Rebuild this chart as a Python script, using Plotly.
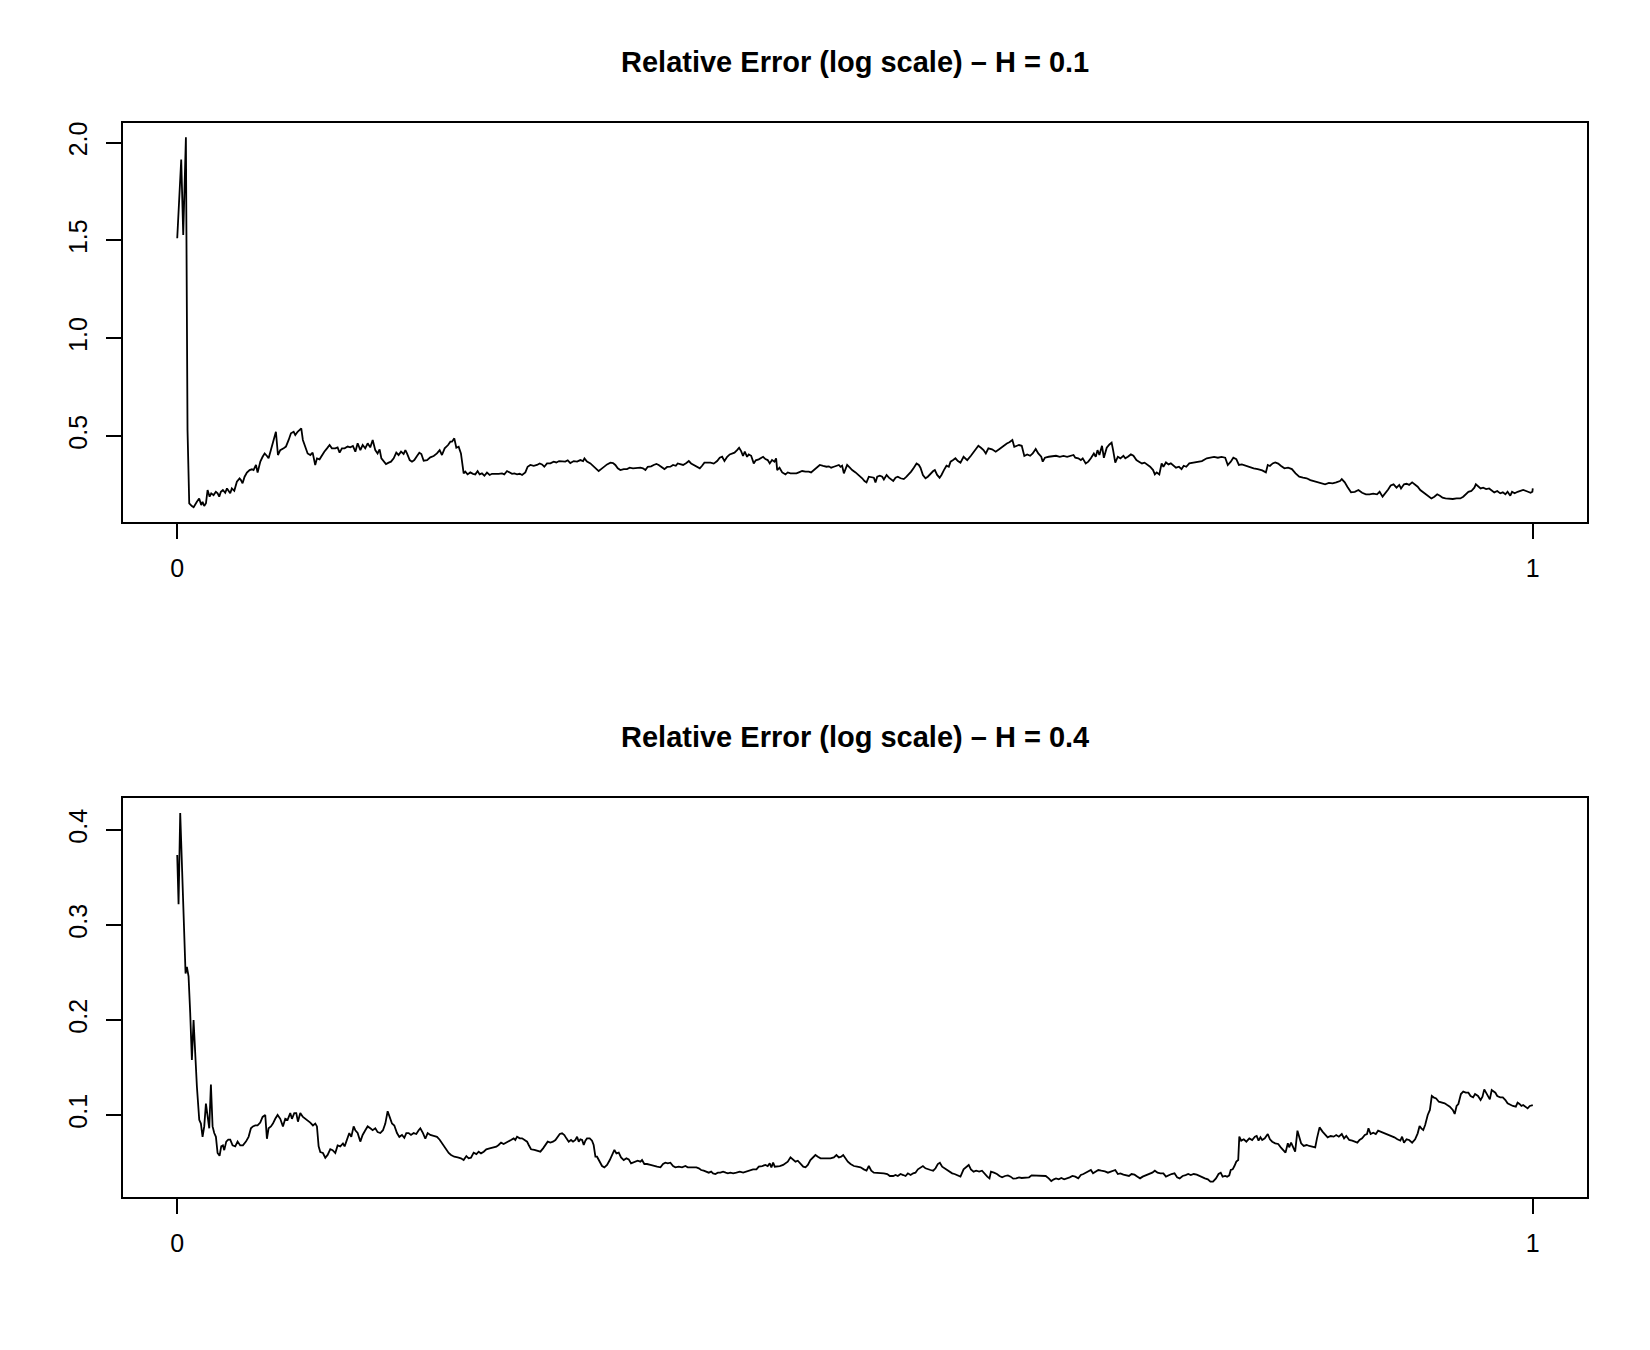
import plotly.graph_objects as go

# ---------------- data ----------------
title_top = "Relative Error (log scale) \u2013 H = 0.1"
title_bottom = "Relative Error (log scale) \u2013 H = 0.4"

x_tick_vals = [0, 1]
x_tick_text = ["0", "1"]
top_y_tick_vals = [0.5, 1.0, 1.5, 2.0]
top_y_tick_text = ["0.5", "1.0", "1.5", "2.0"]
bottom_y_tick_vals = [0.1, 0.2, 0.3, 0.4]
bottom_y_tick_text = ["0.1", "0.2", "0.3", "0.4"]

# H = 0.1 series, (t, relative error) pairs
h01_part1 = [(0, 1.511), (0.00295, 1.914), (0.00443, 1.528), (0.0064, 2.027), (0.0076, 0.531), (0.00886, 0.156),
    (0.0108, 0.142), (0.0121, 0.136), (0.0145, 0.164), (0.0162, 0.181), (0.0177, 0.147), (0.0187, 0.164),
    (0.0199, 0.142), (0.0212, 0.156), (0.0224, 0.224), (0.0239, 0.190), (0.0251, 0.207), (0.0268, 0.198),
    (0.0285, 0.215), (0.0298, 0.207), (0.0310, 0.190), (0.0322, 0.215), (0.0337, 0.224), (0.0354, 0.210),
    (0.0367, 0.232), (0.0379, 0.220), (0.0391, 0.207), (0.0403, 0.232), (0.0421, 0.220), (0.0440, 0.266),
    (0.0460, 0.283), (0.0470, 0.275), (0.0482, 0.258), (0.0497, 0.292), (0.0514, 0.313), (0.0534, 0.326),
    (0.0551, 0.330), (0.0563, 0.326), (0.0581, 0.352), (0.0593, 0.313), (0.0613, 0.369), (0.0630, 0.394),
    (0.0645, 0.411), (0.0662, 0.398), (0.0674, 0.386), (0.0691, 0.428), (0.0711, 0.480), (0.0728, 0.522),
    (0.0743, 0.403), (0.0760, 0.428), (0.0785, 0.437), (0.0802, 0.446), (0.0822, 0.480), (0.0839, 0.514),
    (0.0859, 0.522), (0.0871, 0.505), (0.0888, 0.522), (0.0900, 0.531), (0.0915, 0.539), (0.0927, 0.480),
    (0.0945, 0.446), (0.0962, 0.411), (0.0982, 0.403), (0.0999, 0.415), (0.1018, 0.352), (0.1031, 0.386),
    (0.1050, 0.381), (0.1068, 0.403), (0.1085, 0.420), (0.1105, 0.437), (0.1124, 0.454), (0.1141, 0.437),
    (0.1166, 0.437), (0.1183, 0.442), (0.1198, 0.415), (0.1215, 0.437), (0.1235, 0.437), (0.1257, 0.446),
    (0.1277, 0.442), (0.1296, 0.449), (0.1314, 0.420), (0.1331, 0.463), (0.1351, 0.428), (0.1368, 0.454),
    (0.1387, 0.437), (0.1405, 0.463), (0.1424, 0.442), (0.1442, 0.480), (0.1461, 0.428), (0.1478, 0.411),
    (0.1493, 0.432), (0.1506, 0.386), (0.1523, 0.369), (0.1540, 0.357), (0.1560, 0.364), (0.1577, 0.369),
    (0.1597, 0.386), (0.1616, 0.415), (0.1633, 0.403), (0.1651, 0.420), (0.1670, 0.408), (0.1683, 0.428),
    (0.1695, 0.411), (0.1715, 0.377), (0.1732, 0.369), (0.1749, 0.377), (0.1769, 0.398), (0.1786, 0.415),
    (0.1801, 0.408), (0.1818, 0.374), (0.1843, 0.377), (0.1867, 0.391), (0.1892, 0.398), (0.1916, 0.411),
    (0.1936, 0.428), (0.1953, 0.403), (0.1973, 0.437), (0.1998, 0.454), (0.2015, 0.471)]

h01_part2 = [(0.2027, 0.471), (0.2044, 0.488), (0.2059, 0.440), (0.2076, 0.445), (0.2093, 0.411), (0.2113, 0.309),
    (0.2125, 0.318), (0.2142, 0.304), (0.2162, 0.314), (0.2182, 0.307), (0.2199, 0.304), (0.2216, 0.321),
    (0.2231, 0.304), (0.2248, 0.309), (0.2266, 0.297), (0.2285, 0.313), (0.2305, 0.301), (0.2322, 0.307),
    (0.2347, 0.306), (0.2371, 0.307), (0.2396, 0.309), (0.2413, 0.304), (0.2433, 0.321), (0.2453, 0.314),
    (0.2470, 0.307), (0.2487, 0.309), (0.2507, 0.304), (0.2527, 0.307), (0.2544, 0.301), (0.2568, 0.314),
    (0.2585, 0.343), (0.2605, 0.352), (0.2630, 0.348), (0.2654, 0.352), (0.2674, 0.360), (0.2691, 0.355),
    (0.2708, 0.343), (0.2728, 0.360), (0.2753, 0.360), (0.2777, 0.369), (0.2797, 0.365), (0.2817, 0.372),
    (0.2839, 0.372), (0.2863, 0.369), (0.2881, 0.376), (0.2900, 0.362), (0.2925, 0.372), (0.2950, 0.369),
    (0.2974, 0.377), (0.2994, 0.372), (0.3004, 0.386), (0.3023, 0.369), (0.3048, 0.360), (0.3072, 0.343),
    (0.3092, 0.331), (0.3109, 0.321), (0.3127, 0.331), (0.3146, 0.343), (0.3171, 0.355), (0.3196, 0.364),
    (0.3215, 0.362), (0.3232, 0.352), (0.3250, 0.335), (0.3269, 0.326), (0.3294, 0.331), (0.3318, 0.331),
    (0.3338, 0.338), (0.3362, 0.335), (0.3392, 0.338), (0.3417, 0.338), (0.3436, 0.335), (0.3454, 0.326),
    (0.3471, 0.343), (0.3496, 0.345), (0.3515, 0.352), (0.3535, 0.357), (0.3552, 0.352), (0.3577, 0.338),
    (0.3594, 0.331), (0.3614, 0.342), (0.3638, 0.343), (0.3658, 0.352), (0.3678, 0.348), (0.3692, 0.360),
    (0.3712, 0.355), (0.3732, 0.352), (0.3756, 0.362), (0.3774, 0.372), (0.3791, 0.360), (0.3811, 0.352),
    (0.3835, 0.343), (0.3855, 0.335), (0.3872, 0.348), (0.3889, 0.364), (0.3909, 0.364), (0.3934, 0.364),
    (0.3958, 0.359), (0.3983, 0.372), (0.4002, 0.389), (0.4020, 0.394), (0.4037, 0.372), (0.4057, 0.394),
    (0.4076, 0.406), (0.4093, 0.411), (0.4111, 0.415), (0.4130, 0.428), (0.4145, 0.440), (0.4160, 0.423),
    (0.4174, 0.398), (0.4187, 0.420), (0.4204, 0.394), (0.4216, 0.406), (0.4234, 0.399), (0.4253, 0.360),
    (0.4268, 0.376), (0.4290, 0.381), (0.4307, 0.389), (0.4322, 0.394), (0.4339, 0.382), (0.4356, 0.377),
    (0.4371, 0.360), (0.4388, 0.377), (0.4406, 0.369), (0.4418, 0.386), (0.4426, 0.326), (0.4443, 0.338),
    (0.4463, 0.314), (0.4487, 0.304), (0.4504, 0.314), (0.4524, 0.309), (0.4544, 0.309), (0.4568, 0.309),
    (0.4586, 0.314), (0.4610, 0.321), (0.4635, 0.318), (0.4659, 0.318), (0.4676, 0.314), (0.4696, 0.326),
    (0.4721, 0.338), (0.4740, 0.352), (0.4765, 0.347), (0.4790, 0.343), (0.4807, 0.345), (0.4824, 0.338),
    (0.4844, 0.343), (0.4863, 0.348), (0.4881, 0.352), (0.4893, 0.343), (0.4905, 0.348), (0.4918, 0.309),
    (0.4930, 0.330), (0.4942, 0.352), (0.4962, 0.338), (0.4979, 0.326), (0.5004, 0.314), (0.5021, 0.304),
    (0.5036, 0.292), (0.5053, 0.284), (0.5070, 0.270), (0.5085, 0.263), (0.5102, 0.292), (0.5120, 0.289),
    (0.5139, 0.287), (0.5151, 0.263), (0.5164, 0.292), (0.5183, 0.297), (0.5201, 0.292), (0.5213, 0.278),
    (0.5233, 0.301), (0.5250, 0.287), (0.5267, 0.280), (0.5282, 0.270), (0.5299, 0.287), (0.5316, 0.292),
    (0.5336, 0.284), (0.5360, 0.280), (0.5380, 0.292), (0.5397, 0.304), (0.5414, 0.318), (0.5434, 0.338),
    (0.5454, 0.360), (0.5471, 0.352), (0.5483, 0.338), (0.5501, 0.301), (0.5520, 0.284), (0.5537, 0.292),
    (0.5557, 0.309), (0.5577, 0.321), (0.5589, 0.326), (0.5606, 0.301), (0.5624, 0.287), (0.5638, 0.301),
    (0.5656, 0.326), (0.5675, 0.348), (0.5692, 0.343), (0.5705, 0.369), (0.5724, 0.377), (0.5741, 0.386),
    (0.5759, 0.372), (0.5778, 0.364)]

h01_part3 = [(0.5801, 0.394), (0.5828, 0.377), (0.5855, 0.399), (0.5883, 0.428), (0.5910, 0.450), (0.5929, 0.440),
    (0.5948, 0.428), (0.5965, 0.411), (0.5984, 0.437), (0.6011, 0.432), (0.6038, 0.420), (0.6066, 0.434),
    (0.6093, 0.450), (0.6120, 0.462), (0.6139, 0.468), (0.6161, 0.480), (0.6175, 0.445), (0.6189, 0.450),
    (0.6210, 0.454), (0.6230, 0.450), (0.6249, 0.398), (0.6270, 0.406), (0.6292, 0.399), (0.6311, 0.411),
    (0.6333, 0.434), (0.6352, 0.411), (0.6374, 0.394), (0.6385, 0.369), (0.6401, 0.389), (0.6429, 0.394),
    (0.6456, 0.398), (0.6483, 0.399), (0.6511, 0.394), (0.6538, 0.398), (0.6565, 0.394), (0.6593, 0.399),
    (0.6612, 0.403), (0.6625, 0.389), (0.6647, 0.386), (0.6666, 0.377), (0.6680, 0.386), (0.6702, 0.360),
    (0.6721, 0.369), (0.6740, 0.386), (0.6762, 0.411), (0.6776, 0.394), (0.6789, 0.428), (0.6803, 0.403),
    (0.6822, 0.450), (0.6836, 0.389), (0.6857, 0.440), (0.6877, 0.457), (0.6893, 0.466), (0.6904, 0.428),
    (0.6920, 0.364), (0.6939, 0.394), (0.6958, 0.386), (0.6980, 0.399), (0.6994, 0.386), (0.7013, 0.394),
    (0.7035, 0.406), (0.7054, 0.399), (0.7076, 0.377), (0.7095, 0.369), (0.7117, 0.360), (0.7136, 0.364),
    (0.7158, 0.352), (0.7177, 0.343), (0.7199, 0.326), (0.7212, 0.304), (0.7226, 0.314), (0.7245, 0.304),
    (0.7262, 0.360), (0.7275, 0.343), (0.7294, 0.365), (0.7313, 0.355), (0.7330, 0.360), (0.7349, 0.348),
    (0.7368, 0.338), (0.7390, 0.343), (0.7409, 0.331), (0.7425, 0.348), (0.7444, 0.343), (0.7466, 0.360),
    (0.7494, 0.364), (0.7526, 0.369), (0.7559, 0.372), (0.7595, 0.386), (0.7622, 0.389), (0.7649, 0.393),
    (0.7677, 0.389), (0.7704, 0.393), (0.7731, 0.389), (0.7750, 0.352), (0.7772, 0.369), (0.7791, 0.389),
    (0.7813, 0.382), (0.7832, 0.352), (0.7854, 0.355), (0.7881, 0.348), (0.7909, 0.342), (0.7941, 0.335),
    (0.7971, 0.331), (0.8004, 0.324), (0.8031, 0.314), (0.8045, 0.352), (0.8061, 0.347), (0.8081, 0.360),
    (0.8100, 0.365), (0.8122, 0.359), (0.8141, 0.348), (0.8168, 0.335), (0.8195, 0.338), (0.8223, 0.331),
    (0.8250, 0.309), (0.8277, 0.292), (0.8305, 0.287), (0.8332, 0.284), (0.8359, 0.275), (0.8386, 0.270),
    (0.8414, 0.263), (0.8441, 0.258), (0.8468, 0.253), (0.8496, 0.260), (0.8523, 0.258), (0.8550, 0.263),
    (0.8578, 0.270), (0.8591, 0.280), (0.8613, 0.263), (0.8632, 0.241), (0.8659, 0.212), (0.8687, 0.215),
    (0.8714, 0.224), (0.8741, 0.210), (0.8769, 0.202), (0.8796, 0.202), (0.8823, 0.205), (0.8851, 0.202),
    (0.8870, 0.215), (0.8892, 0.190), (0.8913, 0.207), (0.8933, 0.227), (0.8952, 0.247), (0.8973, 0.253),
    (0.8995, 0.236), (0.9015, 0.250), (0.9028, 0.232), (0.9050, 0.253), (0.9069, 0.256), (0.9088, 0.250),
    (0.9110, 0.263), (0.9132, 0.253), (0.9151, 0.241), (0.9170, 0.224), (0.9192, 0.212), (0.9214, 0.202),
    (0.9233, 0.190), (0.9252, 0.181), (0.9274, 0.190), (0.9295, 0.202), (0.9315, 0.195), (0.9334, 0.185),
    (0.9356, 0.181), (0.9383, 0.178), (0.9410, 0.178), (0.9438, 0.181), (0.9465, 0.181), (0.9487, 0.190),
    (0.9506, 0.202), (0.9525, 0.215), (0.9547, 0.219), (0.9569, 0.236), (0.9580, 0.253), (0.9596, 0.241),
    (0.9615, 0.232), (0.9634, 0.236), (0.9656, 0.229), (0.9678, 0.232), (0.9697, 0.224), (0.9716, 0.212),
    (0.9738, 0.219), (0.9760, 0.207), (0.9779, 0.212), (0.9798, 0.202), (0.9814, 0.215), (0.9834, 0.195),
    (0.9847, 0.215), (0.9866, 0.207), (0.9888, 0.215), (0.9907, 0.219), (0.9929, 0.224), (0.9951, 0.219),
    (0.9970, 0.215), (0.9984, 0.210), (0.9997, 0.215), (1.0, 0.232)]

# H = 0.4 series, (t, relative error) pairs
h04_part1 = [(0, 0.3737), (0.00098, 0.322), (0.00221, 0.418), (0.00418, 0.330), (0.00615, 0.249), (0.00713, 0.256),
    (0.00836, 0.246), (0.00959, 0.207), (0.01082, 0.158), (0.01205, 0.200), (0.01328, 0.161), (0.01451, 0.130),
    (0.01624, 0.095), (0.01747, 0.091), (0.0187, 0.077), (0.01993, 0.088), (0.02116, 0.112), (0.02239, 0.098),
    (0.02362, 0.086), (0.02485, 0.132), (0.02608, 0.088), (0.02731, 0.081), (0.02854, 0.077), (0.02977, 0.060),
    (0.03124, 0.057), (0.03247, 0.067), (0.0337, 0.068), (0.03469, 0.063), (0.03616, 0.072), (0.03764, 0.074),
    (0.03911, 0.074), (0.04084, 0.068), (0.0428, 0.067), (0.04453, 0.072), (0.04649, 0.068), (0.04846, 0.068),
    (0.05068, 0.072), (0.05264, 0.077), (0.05437, 0.086), (0.05584, 0.088), (0.05756, 0.089), (0.05929, 0.089),
    (0.06125, 0.092), (0.06298, 0.098), (0.06494, 0.100), (0.06617, 0.075), (0.0674, 0.086), (0.06913, 0.088),
    (0.0706, 0.091), (0.07232, 0.096), (0.07405, 0.100), (0.07601, 0.096), (0.07798, 0.088), (0.0797, 0.096),
    (0.08143, 0.095), (0.08339, 0.102), (0.08462, 0.096), (0.08635, 0.102), (0.08782, 0.102), (0.08905, 0.093),
    (0.09077, 0.102), (0.09274, 0.098), (0.09446, 0.096), (0.09619, 0.095), (0.09815, 0.092), (0.10012, 0.089),
    (0.10185, 0.091), (0.10308, 0.088), (0.10431, 0.067), (0.10554, 0.061), (0.1075, 0.060), (0.10923, 0.055),
    (0.11095, 0.058), (0.11292, 0.064), (0.11464, 0.063), (0.11661, 0.060), (0.11833, 0.068), (0.1203, 0.067),
    (0.12226, 0.070), (0.12349, 0.067), (0.12522, 0.074), (0.12694, 0.081), (0.12841, 0.077), (0.13014, 0.088),
    (0.13137, 0.084), (0.13309, 0.081), (0.13506, 0.072), (0.13678, 0.079), (0.13875, 0.084), (0.14047, 0.088),
    (0.14244, 0.086), (0.14416, 0.084), (0.14613, 0.086), (0.14785, 0.082), (0.14982, 0.081), (0.15178, 0.084),
    (0.15351, 0.091), (0.15523, 0.104), (0.1567, 0.098), (0.15843, 0.091), (0.16015, 0.089), (0.16212, 0.081),
    (0.16384, 0.077), (0.16581, 0.079), (0.16753, 0.076), (0.169, 0.081), (0.17073, 0.081), (0.17245, 0.079),
    (0.17442, 0.081), (0.17638, 0.080), (0.17811, 0.084), (0.17934, 0.086), (0.1813, 0.081), (0.18303, 0.075),
    (0.18475, 0.081), (0.18672, 0.079), (0.18918, 0.078), (0.19164, 0.077), (0.1936, 0.074), (0.19533, 0.070),
    (0.19779, 0.065), (0.20025, 0.060)]

h04_part2 = [(0.2020, 0.0579), (0.2044, 0.0561), (0.2069, 0.0554), (0.2093, 0.0544), (0.2113, 0.0526), (0.2133, 0.0568),
    (0.2150, 0.0544), (0.2167, 0.0551), (0.2187, 0.0604), (0.2207, 0.0589), (0.2224, 0.0614), (0.2241, 0.0596),
    (0.2261, 0.0614), (0.2280, 0.0639), (0.2305, 0.0649), (0.2330, 0.0656), (0.2354, 0.0667), (0.2371, 0.0684),
    (0.2389, 0.0709), (0.2408, 0.0695), (0.2428, 0.0709), (0.2445, 0.0719), (0.2462, 0.0737), (0.2482, 0.0754),
    (0.2494, 0.0737), (0.2507, 0.0772), (0.2527, 0.0754), (0.2544, 0.0754), (0.2561, 0.0737), (0.2581, 0.0719),
    (0.2593, 0.0684), (0.2610, 0.0639), (0.2635, 0.0632), (0.2659, 0.0625), (0.2679, 0.0614), (0.2699, 0.0649),
    (0.2716, 0.0684), (0.2733, 0.0719), (0.2753, 0.0709), (0.2772, 0.0719), (0.2790, 0.0737), (0.2807, 0.0772),
    (0.2822, 0.0800), (0.2839, 0.0807), (0.2856, 0.0789), (0.2871, 0.0754), (0.2888, 0.0719), (0.2905, 0.0737),
    (0.2920, 0.0719), (0.2937, 0.0737), (0.2950, 0.0772), (0.2962, 0.0719), (0.2974, 0.0744), (0.2987, 0.0737),
    (0.2999, 0.0684), (0.3011, 0.0730), (0.3023, 0.0754), (0.3043, 0.0754), (0.3060, 0.0730), (0.3072, 0.0684),
    (0.3085, 0.0561), (0.3097, 0.0561), (0.3117, 0.0498), (0.3134, 0.0463), (0.3151, 0.0449), (0.3171, 0.0474),
    (0.3191, 0.0526), (0.3208, 0.0589), (0.3225, 0.0632), (0.3240, 0.0596), (0.3257, 0.0604), (0.3274, 0.0554),
    (0.3294, 0.0526), (0.3314, 0.0544), (0.3331, 0.0533), (0.3348, 0.0491), (0.3363, 0.0498), (0.3380, 0.0509),
    (0.3397, 0.0519), (0.3417, 0.0509), (0.3429, 0.0526), (0.3446, 0.0484), (0.3466, 0.0484), (0.3491, 0.0474),
    (0.3515, 0.0463), (0.3540, 0.0456), (0.3565, 0.0449), (0.3584, 0.0484), (0.3601, 0.0498), (0.3619, 0.0491),
    (0.3638, 0.0498), (0.3658, 0.0463), (0.3675, 0.0449), (0.3700, 0.0456), (0.3724, 0.0449), (0.3749, 0.0463),
    (0.3766, 0.0449), (0.3786, 0.0449), (0.3811, 0.0446), (0.3830, 0.0449), (0.3848, 0.0439), (0.3865, 0.0421),
    (0.3884, 0.0414), (0.3904, 0.0404), (0.3921, 0.0393), (0.3939, 0.0404), (0.3953, 0.0386), (0.3970, 0.0379),
    (0.3988, 0.0393), (0.4007, 0.0393), (0.4027, 0.0404), (0.4047, 0.0393), (0.4062, 0.0386), (0.4081, 0.0393),
    (0.4101, 0.0386), (0.4125, 0.0393), (0.4150, 0.0404), (0.4175, 0.0393), (0.4199, 0.0404), (0.4224, 0.0421),
    (0.4248, 0.0428), (0.4273, 0.0428), (0.4290, 0.0456), (0.4315, 0.0463), (0.4339, 0.0474), (0.4356, 0.0463),
    (0.4371, 0.0491), (0.4383, 0.0449), (0.4396, 0.0498), (0.4408, 0.0456), (0.4426, 0.0456), (0.4445, 0.0463),
    (0.4470, 0.0474), (0.4487, 0.0491), (0.4504, 0.0509), (0.4524, 0.0554), (0.4544, 0.0533), (0.4561, 0.0509),
    (0.4578, 0.0519), (0.4598, 0.0491), (0.4618, 0.0456), (0.4635, 0.0449), (0.4652, 0.0474), (0.4671, 0.0526),
    (0.4691, 0.0561), (0.4708, 0.0579), (0.4726, 0.0561), (0.4746, 0.0544), (0.4770, 0.0544), (0.4795, 0.0544),
    (0.4819, 0.0544), (0.4844, 0.0554), (0.4863, 0.0579), (0.4881, 0.0554), (0.4898, 0.0561), (0.4913, 0.0579),
    (0.4930, 0.0544), (0.4947, 0.0509), (0.4967, 0.0484), (0.4992, 0.0463), (0.5016, 0.0456), (0.5041, 0.0449),
    (0.5065, 0.0428), (0.5085, 0.0414), (0.5102, 0.0463), (0.5120, 0.0414), (0.5139, 0.0393), (0.5164, 0.0393),
    (0.5188, 0.0386), (0.5213, 0.0386), (0.5238, 0.0379), (0.5257, 0.0358), (0.5282, 0.0358), (0.5299, 0.0368),
    (0.5316, 0.0358), (0.5336, 0.0379), (0.5356, 0.0368), (0.5373, 0.0358), (0.5390, 0.0386), (0.5410, 0.0368),
    (0.5429, 0.0386), (0.5446, 0.0393), (0.5464, 0.0428), (0.5483, 0.0449), (0.5501, 0.0463), (0.5520, 0.0439),
    (0.5537, 0.0428), (0.5557, 0.0421), (0.5577, 0.0414), (0.5594, 0.0439), (0.5611, 0.0484), (0.5626, 0.0498),
    (0.5643, 0.0456), (0.5661, 0.0439), (0.5680, 0.0414), (0.5700, 0.0393), (0.5717, 0.0386), (0.5734, 0.0379),
    (0.5754, 0.0368), (0.5778, 0.0351)]

h04_part3 = [(0.5801, 0.0428), (0.5820, 0.0449), (0.5839, 0.0474), (0.5855, 0.0428), (0.5875, 0.0404), (0.5894, 0.0414),
    (0.5916, 0.0404), (0.5937, 0.0414), (0.5956, 0.0379), (0.5976, 0.0351), (0.5992, 0.0333), (0.6003, 0.0404),
    (0.6025, 0.0393), (0.6047, 0.0379), (0.6066, 0.0358), (0.6085, 0.0344), (0.6107, 0.0358), (0.6128, 0.0365),
    (0.6148, 0.0351), (0.6167, 0.0330), (0.6189, 0.0333), (0.6210, 0.0344), (0.6229, 0.0337), (0.6257, 0.0340),
    (0.6284, 0.0344), (0.6303, 0.0365), (0.6325, 0.0365), (0.6352, 0.0365), (0.6380, 0.0365), (0.6407, 0.0358),
    (0.6429, 0.0333), (0.6448, 0.0305), (0.6467, 0.0323), (0.6483, 0.0333), (0.6503, 0.0323), (0.6522, 0.0337),
    (0.6543, 0.0323), (0.6565, 0.0330), (0.6584, 0.0344), (0.6604, 0.0358), (0.6625, 0.0351), (0.6647, 0.0333),
    (0.6666, 0.0368), (0.6685, 0.0379), (0.6707, 0.0393), (0.6729, 0.0407), (0.6740, 0.0421), (0.6756, 0.0386),
    (0.6776, 0.0407), (0.6795, 0.0421), (0.6817, 0.0414), (0.6844, 0.0407), (0.6866, 0.0393), (0.6885, 0.0400),
    (0.6904, 0.0407), (0.6920, 0.0421), (0.6939, 0.0379), (0.6958, 0.0386), (0.6980, 0.0372), (0.7002, 0.0365),
    (0.7021, 0.0358), (0.7040, 0.0379), (0.7062, 0.0372), (0.7084, 0.0351), (0.7103, 0.0333), (0.7122, 0.0351),
    (0.7144, 0.0365), (0.7171, 0.0379), (0.7193, 0.0393), (0.7212, 0.0414), (0.7232, 0.0393), (0.7253, 0.0386),
    (0.7275, 0.0386), (0.7294, 0.0351), (0.7313, 0.0368), (0.7335, 0.0379), (0.7357, 0.0386), (0.7376, 0.0344),
    (0.7395, 0.0333), (0.7417, 0.0358), (0.7439, 0.0368), (0.7458, 0.0379), (0.7477, 0.0368), (0.7499, 0.0379),
    (0.7521, 0.0372), (0.7540, 0.0358), (0.7559, 0.0344), (0.7581, 0.0333), (0.7603, 0.0323), (0.7622, 0.0298),
    (0.7641, 0.0298), (0.7663, 0.0333), (0.7682, 0.0379), (0.7698, 0.0393), (0.7712, 0.0351), (0.7731, 0.0358),
    (0.7745, 0.0351), (0.7761, 0.0365), (0.7772, 0.0421), (0.7786, 0.0428), (0.7799, 0.0463), (0.7813, 0.0509),
    (0.7827, 0.0526), (0.7835, 0.0772), (0.7849, 0.0730), (0.7868, 0.0744), (0.7887, 0.0719), (0.7909, 0.0754),
    (0.7930, 0.0737), (0.7950, 0.0772), (0.7963, 0.0779), (0.7977, 0.0730), (0.7991, 0.0765), (0.8004, 0.0737),
    (0.8023, 0.0754), (0.8045, 0.0800), (0.8061, 0.0744), (0.8078, 0.0719), (0.8100, 0.0702), (0.8122, 0.0695),
    (0.8141, 0.0660), (0.8160, 0.0625), (0.8176, 0.0604), (0.8193, 0.0702), (0.8203, 0.0660), (0.8217, 0.0709),
    (0.8231, 0.0667), (0.8247, 0.0614), (0.8264, 0.0835), (0.8277, 0.0772), (0.8291, 0.0702), (0.8310, 0.0674),
    (0.8332, 0.0684), (0.8351, 0.0674), (0.8373, 0.0667), (0.8395, 0.0660), (0.8408, 0.0754), (0.8427, 0.0870),
    (0.8449, 0.0825), (0.8468, 0.0789), (0.8487, 0.0765), (0.8509, 0.0779), (0.8531, 0.0772), (0.8550, 0.0789),
    (0.8569, 0.0772), (0.8591, 0.0800), (0.8608, 0.0754), (0.8624, 0.0779), (0.8646, 0.0737), (0.8668, 0.0730),
    (0.8687, 0.0719), (0.8706, 0.0709), (0.8722, 0.0737), (0.8741, 0.0754), (0.8761, 0.0789), (0.8777, 0.0800),
    (0.8788, 0.0860), (0.8804, 0.0800), (0.8823, 0.0814), (0.8842, 0.0800), (0.8859, 0.0835), (0.8878, 0.0825),
    (0.8897, 0.0814), (0.8919, 0.0800), (0.8941, 0.0789), (0.8960, 0.0779), (0.8979, 0.0765), (0.9001, 0.0744),
    (0.9023, 0.0730), (0.9036, 0.0772), (0.9050, 0.0709), (0.9069, 0.0744), (0.9088, 0.0737), (0.9110, 0.0709),
    (0.9132, 0.0744), (0.9151, 0.0807), (0.9165, 0.0884), (0.9178, 0.0860), (0.9192, 0.0842), (0.9206, 0.0895),
    (0.9225, 0.1000), (0.9241, 0.1053), (0.9255, 0.1200), (0.9268, 0.1186), (0.9287, 0.1175), (0.9307, 0.1140),
    (0.9328, 0.1130), (0.9350, 0.1123), (0.9369, 0.1105), (0.9388, 0.1088), (0.9410, 0.1053), (0.9424, 0.1011),
    (0.9438, 0.1095), (0.9451, 0.1116), (0.9470, 0.1221), (0.9487, 0.1246), (0.9506, 0.1235), (0.9525, 0.1235),
    (0.9541, 0.1200), (0.9560, 0.1186), (0.9574, 0.1221), (0.9596, 0.1200), (0.9615, 0.1158), (0.9629, 0.1193),
    (0.9642, 0.1270), (0.9656, 0.1235), (0.9670, 0.1200), (0.9683, 0.1165), (0.9697, 0.1263), (0.9711, 0.1246),
    (0.9724, 0.1235), (0.9738, 0.1200), (0.9760, 0.1186), (0.9779, 0.1186), (0.9798, 0.1158), (0.9814, 0.1123),
    (0.9834, 0.1105), (0.9853, 0.1095), (0.9875, 0.1088), (0.9888, 0.1130), (0.9902, 0.1116), (0.9916, 0.1095),
    (0.9929, 0.1105), (0.9943, 0.1088), (0.9962, 0.1070), (0.9978, 0.1095), (0.9997, 0.1105), (1.0, 0.1105)]

# ---------------- figure ----------------
def unzip(*parts):
    xs, ys = [], []
    for part in parts:
        for t, v in part:
            xs.append(t)
            ys.append(v)
    return xs, ys

x_top, y_top = unzip(h01_part1, h01_part2, h01_part3)
x_bot, y_bot = unzip(h04_part1, h04_part2, h04_part3)

FONT = "Liberation Sans, Arial, Helvetica, sans-serif"
W, H = 1650, 1350

fig = go.Figure()
fig.add_trace(go.Scatter(x=x_top, y=y_top, mode="lines", xaxis="x", yaxis="y",
                         line=dict(color="black", width=1.8), showlegend=False, hoverinfo="skip"))
fig.add_trace(go.Scatter(x=x_bot, y=y_bot, mode="lines", xaxis="x2", yaxis="y2",
                         line=dict(color="black", width=1.8), showlegend=False, hoverinfo="skip"))

xdom = [123 / W, 1587 / W]
top_dom = [1 - 521.7 / H, 1 - 122.7 / H]
bot_dom = [1 - 1196.7 / H, 1 - 798.3 / H]

axis_common = dict(showline=True, linecolor="black", linewidth=1.8, mirror=True,
                   ticks="outside", ticklen=15, tickwidth=1.6, tickcolor="black",
                   showgrid=False, zeroline=False, fixedrange=True,
                   tickfont=dict(family=FONT, size=25, color="black"))

fig.update_layout(
    width=W, height=H,
    margin=dict(l=0, r=0, t=0, b=0),
    paper_bgcolor="white", plot_bgcolor="white",
    xaxis=dict(domain=xdom, anchor="y", range=[-0.04, 1.04], tickvals=x_tick_vals, ticktext=x_tick_text,
               ticklabelstandoff=8, **axis_common),
    yaxis=dict(domain=top_dom, anchor="x", range=[0.062, 2.102], tickvals=top_y_tick_vals,
               ticktext=top_y_tick_text, tickangle=-90, ticklabelstandoff=9, **axis_common),
    xaxis2=dict(domain=xdom, anchor="y2", range=[-0.04, 1.04], tickvals=x_tick_vals, ticktext=x_tick_text,
                ticklabelstandoff=8, **axis_common),
    yaxis2=dict(domain=bot_dom, anchor="x2", range=[0.014, 0.4334], tickvals=bottom_y_tick_vals,
                ticktext=bottom_y_tick_text, tickangle=-90, ticklabelstandoff=9, **axis_common),
    annotations=[
        dict(text="<b>" + title_top + "</b>", x=(xdom[0] + xdom[1]) / 2, y=1 - 62 / H, xref="paper", yref="paper",
             xanchor="center", yanchor="middle", showarrow=False, font=dict(family=FONT, size=29, color="black")),
        dict(text="<b>" + title_bottom + "</b>", x=(xdom[0] + xdom[1]) / 2, y=1 - 737 / H, xref="paper", yref="paper",
             xanchor="center", yanchor="middle", showarrow=False, font=dict(family=FONT, size=29, color="black")),
    ],
)

fig.write_html("out.html")
